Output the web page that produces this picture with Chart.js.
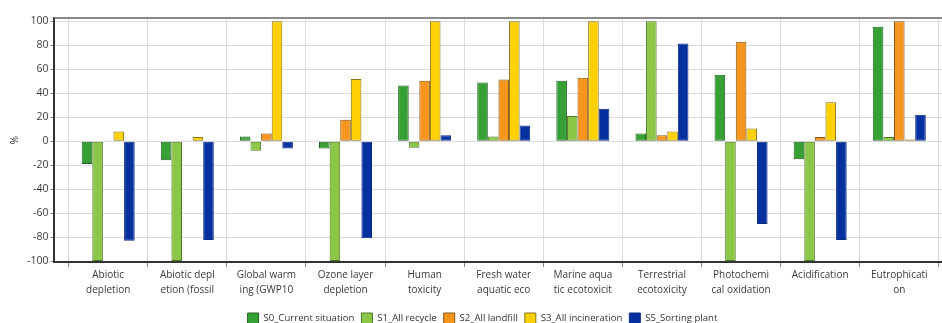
<!DOCTYPE html>
<html>
<head>
<meta charset="utf-8">
<script src="https://cdn.jsdelivr.net/npm/chart.js@4/dist/chart.umd.min.js"></script>
<style>
  html, body { margin: 0; padding: 0; background: #fff; }
  #wrap { width: 942px; height: 323px; }
</style>
</head>
<body>
<div id="wrap"><canvas id="chart"></canvas></div>
<script>
// impact categories (labels are cut in two lines like the original)
var categories = [
    ['Abiotic', 'depletion'],
    ['Abiotic depl', 'etion (fossil'],
    ['Global warm', 'ing (GWP10'],
    ['Ozone layer', 'depletion'],
    ['Human', 'toxicity'],
    ['Fresh water', 'aquatic eco'],
    ['Marine aqua', 'tic ecotoxicit'],
    ['Terrestrial', 'ecotoxicity'],
    ['Photochemi', 'cal oxidation'],
    ['Acidification'],
    ['Eutrophicati', 'on']
];

var s0 = [-19, -16, 4, -6, 46.5, 49, 50.5, 6.5, 55.5, -15, 95.5];
var s1 = [-100, -100, -8, -100, -5.5, 4, 21, 100, -100, -100, 3.5];
var s2 = [0.5, 0.5, 6.5, 18, 50.5, 51.5, 53, 5, 83, 3.5, 100];
var s3 = [8, 3.5, 100, 52, 100, 100, 100, 8, 10.5, 32.5, 1.5];
var s5 = [-83, -82.5, -6, -81, 5, 13, 27, 81.5, -69, -82.5, 22];

var yTicks = [-100, -80, -60, -40, -20, 0, 20, 40, 60, 80, 100];

function toPoints(arr) {
    return arr.map(function (v, i) { return { x: i, y: v }; });
}

function makeSet(label, values, fill, border) {
    return {
        label: label,
        data: toPoints(values),
        backgroundColor: fill,
        borderColor: border,
        borderWidth: 1,
        borderSkipped: false,
        barPercentage: 1,
        categoryPercentage: 0.67
    };
}

// gray frame line on top of the plot
var topFrame = {
    id: 'topFrame',
    afterDraw: function (chart) {
        var a = chart.chartArea, ctx = chart.ctx;
        ctx.save();
        ctx.strokeStyle = '#8a8a8a';
        ctx.lineWidth = 2;
        ctx.beginPath();
        ctx.moveTo(a.left, a.top);
        ctx.lineTo(a.right, a.top);
        ctx.stroke();
        ctx.restore();
    }
};

// legend sits a bit right of the middle in the original
var legendShift = {
    id: 'legendShift',
    afterLayout: function (chart) {
        chart.legend.left += 9;
        chart.legend.right += 9;
    }
};

Chart.defaults.font.family = '"Open Sans", "Noto Sans", sans-serif';
Chart.defaults.font.size = 10;
Chart.defaults.color = '#3a3a3a';

var ctx = document.getElementById('chart').getContext('2d');
var myChart = new Chart(ctx, {
    type: 'bar',
    data: {
        datasets: [
            makeSet('S0_Current situation', s0, '#36a035', '#235f22'),
            makeSet('S1_All recycle', s1, '#8cc646', '#4d7a25'),
            makeSet('S2_All landfill', s2, '#f6961f', '#8a5613'),
            makeSet('S3_All incineration', s3, '#ffd105', '#8a7410'),
            makeSet('S5_Sorting plant', s5, '#0531a0', '#0a2a80')
        ]
    },
    plugins: [topFrame, legendShift],
    options: {
        responsive: true,
        maintainAspectRatio: false,
        animation: false,
        layout: { padding: { top: 18, right: 0, left: 5, bottom: -11 } },
        plugins: {
            tooltip: { enabled: false },
            legend: {
                position: 'bottom',
                labels: {
                    boxWidth: 11,
                    boxHeight: 11,
                    padding: 7,
                    color: '#333',
                    font: { size: 9.6 }
                }
            }
        },
        scales: {
            x: {
                type: 'linear',
                min: -0.68,
                max: 10.54,
                offset: false,
                afterBuildTicks: function (axis) {
                    axis.ticks = categories.map(function (c, i) { return { value: i }; });
                },
                afterFit: function (axis) {
                    axis.height += 7;
                },
                ticks: {
                    autoSkip: false,
                    maxRotation: 0,
                    padding: 1,
                    color: '#3a3a3a',
                    font: { size: 10, lineHeight: 1.5 },
                    callback: function (v) { return categories[v]; }
                },
                grid: { color: '#dcdcdc', tickLength: 5, tickColor: '#888' },
                border: { color: '#333', width: 2 }
            },
            y: {
                min: -100.8,
                max: 102.8,
                afterBuildTicks: function (axis) {
                    axis.ticks = yTicks.map(function (v) { return { value: v }; });
                },
                ticks: { color: '#3a3a3a', padding: 2, font: { size: 10.5 } },
                grid: { color: '#dcdcdc', tickLength: 4, tickColor: '#888' },
                border: { color: '#333', width: 2 },
                title: { display: true, text: '%', font: { size: 10 }, padding: 4 }
            }
        }
    }
});
</script>
</body>
</html>
